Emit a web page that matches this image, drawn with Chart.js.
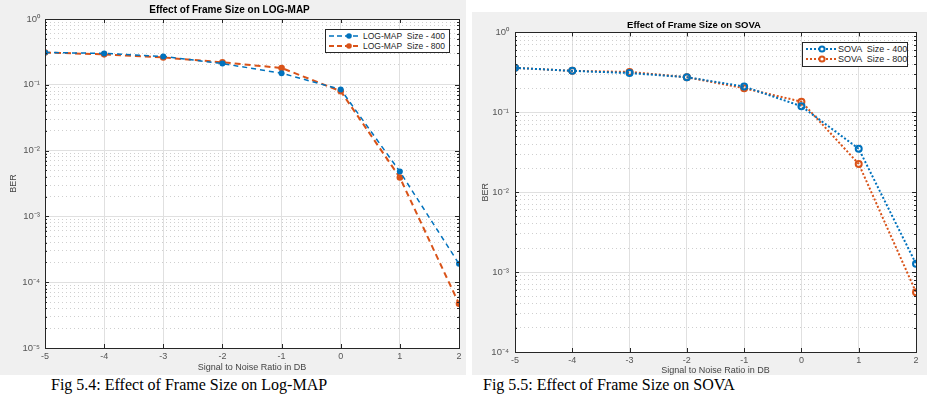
<!DOCTYPE html>
<html>
<head>
<meta charset="utf-8">
<script src="https://cdn.jsdelivr.net/npm/chart.js@4.4.1/dist/chart.umd.min.js"></script>
<style>
  body { margin: 0; background: #fff; width: 931px; height: 396px; position: relative; overflow: hidden; }
  .panel { position: absolute; background: #f0f0f0; }
  .panel canvas { position: absolute; left: 0; top: 0; }
  .legend { position: absolute; background: #fff; border: 1px solid #262626; font-family: "Liberation Sans", Arial, sans-serif; color: #262626; }
  .legend div { position: absolute; white-space: pre; line-height: 10px; }
  .legend svg { position: absolute; left: 0; }
  .caption { position: absolute; font-family: "Liberation Serif", "Times New Roman", serif; font-size: 16px; color: #000; white-space: nowrap; }
</style>
</head>
<body>

<div class="panel" style="left:0;top:0;width:466px;height:375px;">
  <canvas id="chartLogMap" width="466" height="375"></canvas>
</div>
<div class="legend" style="left:325px;top:29px;width:123px;height:22px;font-size:8.5px;">
  <svg width="40" height="22">
    <line x1="3" y1="6" x2="32" y2="6" stroke="#0072BD" stroke-width="1.5" stroke-dasharray="5,3"/>
    <circle cx="23" cy="6" r="2.8" fill="#0072BD"/>
    <line x1="3" y1="16" x2="32" y2="16" stroke="#D95319" stroke-width="2" stroke-dasharray="5,3"/>
    <circle cx="23" cy="16" r="2.8" fill="#D95319"/>
  </svg>
  <div id="legL0" style="left:37px;top:1px;"></div>
  <div id="legL1" style="left:37px;top:11px;"></div>
</div>
<div class="caption" style="left:51px;top:376px;">Fig 5.4: Effect of Frame Size on Log-MAP</div>

<div class="panel" style="left:472px;top:12px;width:455px;height:363px;">
  <canvas id="chartSova" width="455" height="363"></canvas>
</div>
<div class="legend" style="left:802px;top:42px;width:104px;height:23px;font-size:9px;">
  <svg width="40" height="23">
    <line x1="3" y1="6" x2="35" y2="6" stroke="#0072BD" stroke-width="2" stroke-dasharray="2,2"/>
    <circle cx="19" cy="6" r="2.6" fill="#fff" stroke="#0072BD" stroke-width="2"/>
    <line x1="3" y1="16" x2="35" y2="16" stroke="#D95319" stroke-width="2" stroke-dasharray="2,2"/>
    <circle cx="19" cy="16" r="2.6" fill="#fff" stroke="#D95319" stroke-width="2"/>
  </svg>
  <div id="legR0" style="left:35px;top:1px;"></div>
  <div id="legR1" style="left:35px;top:11px;"></div>
</div>
<div class="caption" style="left:483px;top:376px;">Fig 5.5: Effect of Frame Size on SOVA</div>

<script>
// x axis: SNR in dB
var snrDb = [-5, -4, -3, -2, -1, 0, 1, 2];
var snrTicks = [-5, -4, -3, -2, -1, 0, 1, 2];

// LOG-MAP BER values
var logMapLabels = ["LOG-MAP  Size - 400", "LOG-MAP  Size - 800"];
var logMap400 = [0.31, 0.30, 0.27, 0.21, 0.15, 0.085, 0.0048, 0.00019];
var logMap800 = [0.31, 0.29, 0.26, 0.22, 0.18, 0.080, 0.0039, 0.000047];
var logMapDecades = [-5, -4, -3, -2, -1, 0];

// SOVA BER values
var sovaLabels = ["SOVA  Size - 400", "SOVA  Size - 800"];
var sova400 = [0.36, 0.33, 0.31, 0.275, 0.21, 0.119, 0.035, 0.00127];
var sova800 = [0.36, 0.33, 0.32, 0.275, 0.20, 0.136, 0.0226, 0.00056];
var sovaDecades = [-4, -3, -2, -1, 0];

var blue = '#0072BD';
var orange = '#D95319';
var sansFont = '"Liberation Sans", Arial, sans-serif';

var sup = { '-': '\u207B', '0': '\u2070', '1': '\u00B9', '2': '\u00B2', '3': '\u00B3', '4': '\u2074', '5': '\u2075' };
function isPow10(v) {
    var l = Math.log10(v);
    return Math.abs(l - Math.round(l)) < 1e-9;
}
function powLabel(v) {
    var e = String(Math.round(Math.log10(v)));
    return '10' + e.split('').map(function (c) { return sup[c]; }).join('');
}
function logTickValues(decades) {
    var out = [];
    for (var i = 0; i < decades.length - 1; i++) {
        for (var m = 1; m < 10; m++) out.push(m * Math.pow(10, decades[i]));
    }
    out.push(Math.pow(10, decades[decades.length - 1]));
    return out;
}
function points(ys) {
    return snrDb.map(function (x, i) { return { x: x, y: ys[i] }; });
}

// white plot area + MATLAB style box with inward ticks
var boxPlugin = {
    id: 'box',
    beforeDraw: function (chart) {
        var a = chart.chartArea, c = chart.ctx;
        c.save();
        c.fillStyle = '#fff';
        c.fillRect(a.left, a.top, a.right - a.left, a.bottom - a.top);
        c.restore();
    },
    afterDraw: function (chart) {
        var a = chart.chartArea, c = chart.ctx;
        var xs = chart.scales.x, ys = chart.scales.y;
        c.save();
        c.strokeStyle = '#262626';
        c.lineWidth = 1;
        c.beginPath();
        ys.ticks.forEach(function (t) {
            var py = Math.round(ys.getPixelForValue(t.value)) + 0.5;
            var len = isPow10(t.value) ? 4 : 2;
            c.moveTo(a.left, py); c.lineTo(a.left + len, py);
            c.moveTo(a.right, py); c.lineTo(a.right - len, py);
        });
        xs.ticks.forEach(function (t) {
            var px = Math.round(xs.getPixelForValue(t.value)) + 0.5;
            c.moveTo(px, a.bottom); c.lineTo(px, a.bottom - 4);
            c.moveTo(px, a.top); c.lineTo(px, a.top + 4);
        });
        c.stroke();
        c.strokeRect(Math.round(a.left) + 0.5, Math.round(a.top) + 0.5, Math.round(a.right - a.left), Math.round(a.bottom - a.top));
        c.restore();
    }
};

function makeChart(id, o) {
    var ctx = document.getElementById(id).getContext('2d');
    return new Chart(ctx, {
        type: 'line',
        data: { datasets: o.datasets },
        plugins: [boxPlugin],
        options: {
            responsive: false,
            animation: false,
            devicePixelRatio: 1,
            layout: { padding: { left: 0, right: o.padRight, top: 0, bottom: 0 } },
            plugins: {
                legend: { display: false },
                tooltip: { enabled: false },
                title: {
                    display: true,
                    text: o.title,
                    color: '#000',
                    font: { family: sansFont, size: o.titleSize, weight: 'bold', lineHeight: 1.2 },
                    padding: o.titlePad
                }
            },
            scales: {
                x: {
                    type: 'linear',
                    min: -5, max: 2,
                    afterBuildTicks: function (s) { s.ticks = snrTicks.map(function (v) { return { value: v }; }); },
                    afterFit: function (s) { s.height = o.xHeight; },
                    grid: { color: '#e0e0e0', lineWidth: 1, drawTicks: false },
                    border: { color: '#262626', width: 1 },
                    ticks: { color: '#555', font: { family: sansFont, size: 9 }, padding: 3, maxRotation: 0 },
                    title: {
                        display: true, text: 'Signal to Noise Ratio in DB', color: '#444',
                        font: { family: sansFont, size: 9, lineHeight: 1.0 }, padding: { top: 0, bottom: o.xTitlePad }
                    }
                },
                y: {
                    type: 'logarithmic',
                    min: Math.pow(10, o.decades[0]),
                    max: Math.pow(10, o.decades[o.decades.length - 1]),
                    afterBuildTicks: function (s) {
                        s.ticks = logTickValues(o.decades).map(function (v) { return { value: v, major: isPow10(v) }; });
                    },
                    afterFit: function (s) { s.width = o.yWidth; },
                    grid: {
                        drawTicks: false,
                        lineWidth: 1,
                        color: function (c) { return c.tick && !isPow10(c.tick.value) ? '#cfcfcf' : '#e0e0e0'; }
                    },
                    border: {
                        color: '#262626', width: 1,
                        dash: function (c) { return c.tick && !isPow10(c.tick.value) ? [1, 3] : []; }
                    },
                    ticks: {
                        autoSkip: false,
                        color: '#555',
                        font: { family: sansFont, size: 9.5 },
                        padding: o.yTickPad,
                        callback: function (v) { return isPow10(v) ? powLabel(v) : ''; }
                    },
                    title: {
                        display: true, text: 'BER', color: '#444',
                        font: { family: sansFont, size: 9, lineHeight: 1.2 }, padding: { top: 8, bottom: 0 }
                    }
                }
            }
        }
    });
}

makeChart('chartLogMap', {
    title: 'Effect of Frame Size on LOG-MAP',
    titleSize: 10,
    titlePad: { top: 4, bottom: 3 },
    padRight: 7,
    xHeight: 27,
    xTitlePad: 3,
    yWidth: 45,
    yTickPad: 5,
    decades: logMapDecades,
    datasets: [{
        label: logMapLabels[0],
        data: points(logMap400),
        borderColor: blue, backgroundColor: blue,
        borderWidth: 1.5, borderDash: [5, 4],
        pointRadius: 3, pointBorderWidth: 0, pointBackgroundColor: blue
    }, {
        label: logMapLabels[1],
        data: points(logMap800),
        borderColor: orange, backgroundColor: orange,
        borderWidth: 2, borderDash: [6, 4],
        pointRadius: 3.3, pointBorderWidth: 0, pointBackgroundColor: orange
    }]
});

makeChart('chartSova', {
    title: 'Effect of Frame Size on SOVA',
    titleSize: 9.5,
    titlePad: { top: 8, bottom: 1 },
    padRight: 11,
    xHeight: 23,
    xTitlePad: 0,
    yWidth: 43,
    yTickPad: 6,
    decades: sovaDecades,
    datasets: [{
        label: sovaLabels[0],
        data: points(sova400),
        borderColor: blue, backgroundColor: 'rgba(255,255,255,0)',
        borderWidth: 2, borderDash: [2, 2],
        pointRadius: 3, pointBorderWidth: 2, pointBackgroundColor: 'rgba(255,255,255,0)'
    }, {
        label: sovaLabels[1],
        data: points(sova800),
        borderColor: orange, backgroundColor: 'rgba(255,255,255,0)',
        borderWidth: 2, borderDash: [2, 2],
        pointRadius: 3, pointBorderWidth: 2, pointBackgroundColor: 'rgba(255,255,255,0)'
    }]
});

document.getElementById('legL0').textContent = logMapLabels[0];
document.getElementById('legL1').textContent = logMapLabels[1];
document.getElementById('legR0').textContent = sovaLabels[0];
document.getElementById('legR1').textContent = sovaLabels[1];
</script>
</body>
</html>
